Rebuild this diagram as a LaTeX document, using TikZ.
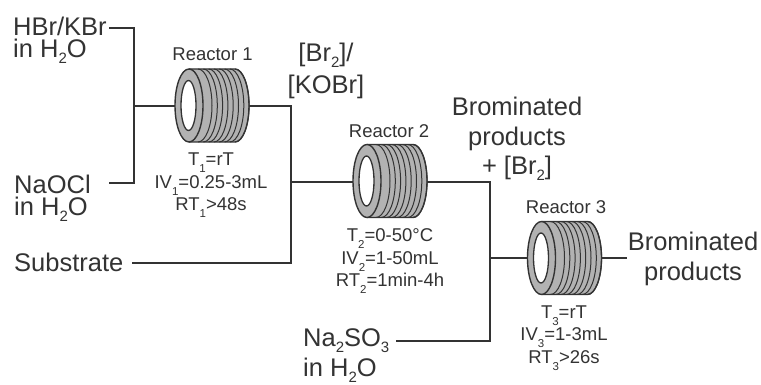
\documentclass[tikz,border=0pt]{standalone}
\usepackage{fontspec}
\setmainfont{Liberation Sans}
\definecolor{ink}{gray}{0.2}
\definecolor{coilgray}{gray}{0.70}
\newcommand{\bsb}[1]{\raisebox{-.24em}{\fontsize{15}{15}\selectfont #1}}
\newcommand{\ssb}[1]{\raisebox{-.38em}{\fontsize{11.5}{11.5}\selectfont #1}}
\tikzset{
  x=1pt,y=-1pt,
  pipe/.style={draw=ink,line width=1.6pt,line join=miter},
  big/.style={inner sep=0pt,align=left,anchor=base west,text=ink,font=\fontsize{25.5}{22}\selectfont},
  bigc/.style={inner sep=0pt,align=center,text=ink,font=\fontsize{25.5}{29.5}\selectfont},
  small/.style={inner sep=0pt,align=center,text=ink,font=\fontsize{18.5}{22.5}\selectfont},
  coilbox/.style={inner sep=0pt,minimum width=74pt,minimum height=73pt},
  pics/coil/.style={code={
    \fill[coilgray] (-23,-36.5) -- (23,-36.5) arc[start angle=-90,end angle=90,x radius=14,y radius=36.5] -- (-23,36.5) arc[start angle=90,end angle=270,x radius=14,y radius=36.5] -- cycle;
    \foreach \xx in {-14,-8.7,...,24}{
      \draw[ink,line width=1pt] (\xx,-36.5) arc[start angle=-90,end angle=90,x radius=14,y radius=36.5];
    }
    \draw[ink,line width=1.4pt] (-23,-36.5) -- (23,-36.5) arc[start angle=-90,end angle=90,x radius=14,y radius=36.5] -- (-23,36.5);
    \draw[ink,line width=1.4pt,fill=coilgray] (-23,0) ellipse[x radius=14,y radius=36.5];
    \draw[ink,line width=1.3pt,fill=white] (-23.5,0) ellipse[x radius=7.5,y radius=25];
  }}
}
\begin{document}
\begin{tikzpicture}
\useasboundingbox (0,0) rectangle (761,385);
\fill[white] (0,0) rectangle (761,385);
% labels
\node[big,anchor=north west] (hbr) at (13,17) {HBr/KBr\\in H\bsb{2}O};
\node[big,anchor=north west] (naocl) at (14,175) {NaOCl\\in H\bsb{2}O};
\node[big] (sub) at (14,271) {Substrate};
\node[big,anchor=north west,font=\fontsize{25.5}{30.5}\selectfont] (na) at (303,328) {Na\bsb{2}SO\bsb{3}\\in H\bsb{2}O};
\node[bigc] (kobr) at (326,71) {[Br\bsb{2}]/\\[3pt]{}[KOBr]};
\node[bigc] (bp) at (517,139) {Brominated\\products\\+ [Br\bsb{2}]};
\node[bigc] (bp3) at (693,259) {Brominated\\products};
\node[small] (l1) at (212.5,54) {Reactor 1};
\node[small] (l2) at (389,131) {Reactor 2};
\node[small] (l3) at (566,207) {Reactor 3};
\node[small] (c1) at (211,185.5) {T\ssb{1}=rT\\IV\ssb{1}=0.25-3mL\\RT\ssb{1}>48s};
\node[small] (c2) at (390,261.5) {T\ssb{2}=0-50°C\\IV\ssb{2}=1-50mL\\RT\ssb{2}=1min-4h};
\node[small] (c3) at (564,338) {T\ssb{3}=rT\\IV\ssb{3}=1-3mL\\RT\ssb{3}>26s};
% reactors
\node[coilbox] (ra) at (212,105.5) {};
\node[coilbox] (rb) at (390,181) {};
\node[coilbox] (rc) at (564.5,258) {};
\pic at (ra) {coil};
\pic at (rb) {coil};
\pic at (rc) {coil};
% connectors
\coordinate (hbrend) at (109,28);
\coordinate (naoclend) at (109,183);
\coordinate (subend) at (132,263);
\coordinate (naend) at (396,341);
\coordinate (bpend) at (627,258);
\coordinate (ja) at (134,106);
\coordinate (jb) at (291,182);
\coordinate (jc) at (490,258);
\draw[pipe] (hbrend) -- (ja |- hbrend) -- (ja |- naoclend) -- (naoclend);
\draw[pipe] (ja) -- (ra.west |- ja);
\draw[pipe] (ra.east |- ja) -- (jb |- ja) -- (jb |- subend) -- (subend);
\draw[pipe] (jb) -- (rb.west |- jb);
\draw[pipe] (rb.east |- jb) -- (jc |- jb) -- (jc |- naend) -- (naend);
\draw[pipe] (jc) -- (rc.west |- jc);
\draw[pipe] (rc.east |- jc) -- (bpend);
\end{tikzpicture}
\end{document}
